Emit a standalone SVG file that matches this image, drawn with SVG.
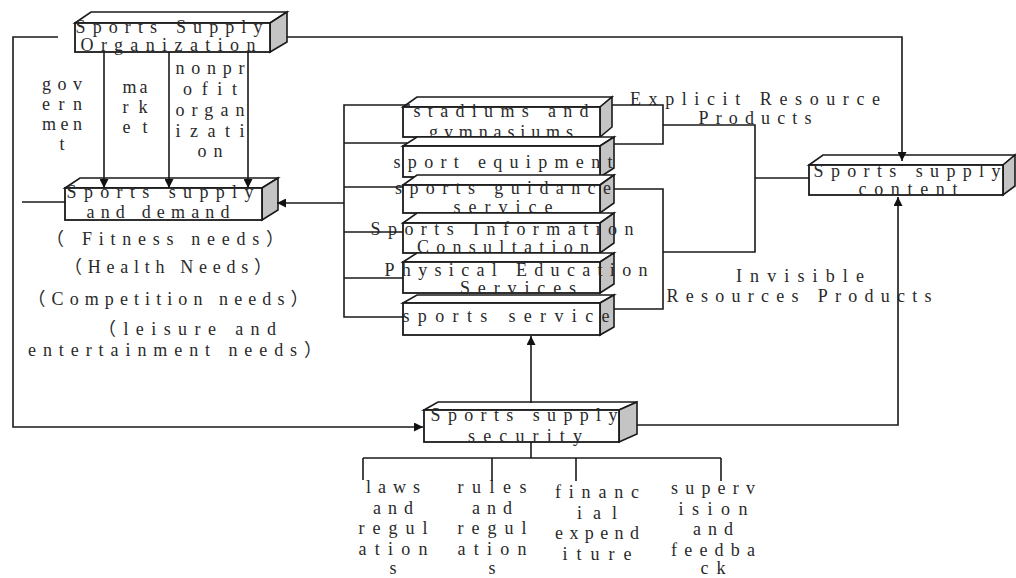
<svg xmlns="http://www.w3.org/2000/svg" width="1016" height="578" viewBox="0 0 1016 578">
<defs>
<style>
.t{font-family:"Liberation Serif","Noto Sans CJK SC",serif;font-size:18px;fill:#2a2a2a;text-anchor:middle}
.ln{fill:none;stroke:#1a1a1a;stroke-width:1.6}
.fr{fill:#ffffff;stroke:#1a1a1a;stroke-width:1.8}
.tp{fill:#ffffff;stroke:#1a1a1a;stroke-width:1.6}
.sd{fill:#c4c4c4;stroke:#1a1a1a;stroke-width:1.6}
</style>
<marker id="ar" viewBox="0 0 10 10" refX="10" refY="5" markerWidth="9" markerHeight="9" markerUnits="userSpaceOnUse" orient="auto">
<path d="M0,0 L10,5 L0,10 z" fill="#111"/>
</marker>
</defs>
<rect width="1016" height="578" fill="#ffffff"/>

<g id="n-org">
<polygon class="tp" points="75,23 91,12 287,12 270,23"/>
<polygon class="sd" points="270,23 287,12 287,42 270,52"/>
<rect class="fr" x="75" y="23" width="195" height="29"/>
<text class="t" x="169" y="33" textLength="187" lengthAdjust="spacing">Sports Supply</text>
<text class="t" x="168" y="51" textLength="175" lengthAdjust="spacing">Organization</text>
</g>

<g id="n-labels-org">
<text class="t" x="62" y="90" textLength="40" lengthAdjust="spacing">gov</text>
<text class="t" x="62" y="110" textLength="40" lengthAdjust="spacing">ern</text>
<text class="t" x="62" y="130" textLength="40" lengthAdjust="spacing">men</text>
<text class="t" x="62" y="150">t</text>
<text class="t" x="135" y="93" textLength="25" lengthAdjust="spacing">ma</text>
<text class="t" x="135" y="113" textLength="25" lengthAdjust="spacing">rk</text>
<text class="t" x="135" y="133" textLength="25" lengthAdjust="spacing">et</text>
<text class="t" x="210" y="74" textLength="69" lengthAdjust="spacing">nonpr</text>
<text class="t" x="210" y="95" textLength="54" lengthAdjust="spacing">ofit</text>
<text class="t" x="210" y="116" textLength="69" lengthAdjust="spacing">organ</text>
<text class="t" x="210" y="137" textLength="69" lengthAdjust="spacing">izati</text>
<text class="t" x="210" y="157" textLength="25" lengthAdjust="spacing">on</text>
</g>

<g id="n-demand">
<polygon class="tp" points="65,188 80,178 278,178 262,188"/>
<polygon class="sd" points="262,188 278,178 278,210 262,220"/>
<rect class="fr" x="65" y="188" width="197" height="32"/>
<text class="t" x="160" y="198" textLength="187" lengthAdjust="spacing">Sports supply</text>
<text class="t" x="158" y="218" textLength="143" lengthAdjust="spacing">and demand</text>
</g>

<g id="n-needs">
<text class="t" x="165" y="245" textLength="238" lengthAdjust="spacing">（ Fitness needs）</text>
<text class="t" x="168" y="273" textLength="208" lengthAdjust="spacing">（Health Needs）</text>
<text class="t" x="168" y="305" textLength="281" lengthAdjust="spacing">（Competition needs）</text>
<text class="t" x="187" y="335" textLength="178" lengthAdjust="spacing">（leisure and</text>
<text class="t" x="175" y="356" textLength="294" lengthAdjust="spacing">entertainment needs）</text>
</g>

<g id="n-stadiums">
<polygon class="tp" points="403,107 417,97 612,97 600,107"/>
<polygon class="sd" points="600,107 612,97 612,127 600,137"/>
<rect class="fr" x="403" y="107" width="197" height="30"/>
<text class="t" x="501" y="117" textLength="175" lengthAdjust="spacing">stadiums and</text>
<text class="t" x="501" y="138" textLength="144" lengthAdjust="spacing">gymnasiums</text>
</g>

<g id="n-equipment">
<polygon class="tp" points="403,146 417,137 614,137 600,146"/>
<polygon class="sd" points="600,146 614,137 614,168 600,177"/>
<rect class="fr" x="403" y="146" width="197" height="31"/>
<text class="t" x="503" y="168" textLength="219" lengthAdjust="spacing">sport equipment</text>
</g>

<g id="n-guidance">
<polygon class="tp" points="403,185 417,175 614,175 600,185"/>
<polygon class="sd" points="600,185 614,175 614,203 600,213"/>
<rect class="fr" x="403" y="185" width="197" height="28"/>
<text class="t" x="503" y="194" textLength="216" lengthAdjust="spacing">sports guidance</text>
<text class="t" x="503" y="213" textLength="99" lengthAdjust="spacing">service</text>
</g>

<g id="n-information">
<polygon class="tp" points="403,223 417,213 614,213 600,223"/>
<polygon class="sd" points="600,223 614,213 614,243 600,253"/>
<rect class="fr" x="403" y="223" width="197" height="30"/>
<text class="t" x="502" y="235" textLength="263" lengthAdjust="spacing">Sports Information</text>
<text class="t" x="503" y="253" textLength="172" lengthAdjust="spacing">Consultation</text>
</g>

<g id="n-pe">
<polygon class="tp" points="403,262 417,253 614,253 600,262"/>
<polygon class="sd" points="600,262 614,253 614,284 600,293"/>
<rect class="fr" x="403" y="262" width="197" height="31"/>
<text class="t" x="516" y="276" textLength="263" lengthAdjust="spacing">Physical Education</text>
<text class="t" x="518" y="294" textLength="116" lengthAdjust="spacing">Services</text>
</g>

<g id="n-service">
<polygon class="tp" points="403,303 417,295 614,295 600,303"/>
<polygon class="sd" points="600,303 614,295 614,327 600,335"/>
<rect class="fr" x="403" y="303" width="197" height="32"/>
<text class="t" x="506" y="322" textLength="207" lengthAdjust="spacing">sports service</text>
</g>

<g id="n-explicit">
<text class="t" x="755" y="105" textLength="250" lengthAdjust="spacing">Explicit Resource</text>
<text class="t" x="755" y="124" textLength="113" lengthAdjust="spacing">Products</text>
</g>

<g id="n-invisible">
<text class="t" x="800" y="282" textLength="128" lengthAdjust="spacing">Invisible</text>
<text class="t" x="799" y="302" textLength="265" lengthAdjust="spacing">Resources Products</text>
</g>

<g id="n-content">
<polygon class="tp" points="809,165 823,155 1015,155 1003,165"/>
<polygon class="sd" points="1003,165 1015,155 1015,186 1003,195"/>
<rect class="fr" x="809" y="165" width="194" height="30"/>
<text class="t" x="907" y="177" textLength="187" lengthAdjust="spacing">Sports supply</text>
<text class="t" x="908" y="195" textLength="99" lengthAdjust="spacing">content</text>
</g>

<g id="n-security">
<polygon class="tp" points="424,410 438,402 637,402 619,410"/>
<polygon class="sd" points="619,410 637,402 637,434 619,442"/>
<rect class="fr" x="424" y="410" width="195" height="32"/>
<text class="t" x="524" y="421" textLength="187" lengthAdjust="spacing">Sports supply</text>
<text class="t" x="525" y="442" textLength="114" lengthAdjust="spacing">security</text>
</g>

<g id="n-laws">
<text class="t" x="393" y="493" textLength="54" lengthAdjust="spacing">laws</text>
<text class="t" x="393" y="514" textLength="40" lengthAdjust="spacing">and</text>
<text class="t" x="393" y="534" textLength="69" lengthAdjust="spacing">regul</text>
<text class="t" x="393" y="555" textLength="69" lengthAdjust="spacing">ation</text>
<text class="t" x="393" y="574">s</text>
</g>
<g id="n-rules">
<text class="t" x="492" y="493" textLength="69" lengthAdjust="spacing">rules</text>
<text class="t" x="492" y="514" textLength="40" lengthAdjust="spacing">and</text>
<text class="t" x="492" y="534" textLength="69" lengthAdjust="spacing">regul</text>
<text class="t" x="492" y="555" textLength="69" lengthAdjust="spacing">ation</text>
<text class="t" x="492" y="574">s</text>
</g>
<g id="n-financial">
<text class="t" x="597" y="498" textLength="84" lengthAdjust="spacing">financ</text>
<text class="t" x="597" y="519" textLength="40" lengthAdjust="spacing">ial</text>
<text class="t" x="597" y="539" textLength="84" lengthAdjust="spacing">expend</text>
<text class="t" x="597" y="560" textLength="69" lengthAdjust="spacing">iture</text>
</g>
<g id="n-supervision">
<text class="t" x="713" y="494" textLength="84" lengthAdjust="spacing">superv</text>
<text class="t" x="713" y="515" textLength="69" lengthAdjust="spacing">ision</text>
<text class="t" x="713" y="535" textLength="40" lengthAdjust="spacing">and</text>
<text class="t" x="713" y="556" textLength="84" lengthAdjust="spacing">feedba</text>
<text class="t" x="713" y="574" textLength="25" lengthAdjust="spacing">ck</text>
</g>

<g id="connectors">
<polyline class="ln" points="58,37 13,37 13,427 423,427" marker-end="url(#ar)"/>
<line class="ln" x1="22" y1="202" x2="65" y2="202"/>
<polyline class="ln" points="287,37 902,37 902,161" marker-end="url(#ar)"/>
<line class="ln" x1="104" y1="52" x2="104" y2="188" marker-end="url(#ar)"/>
<line class="ln" x1="169" y1="52" x2="169" y2="188" marker-end="url(#ar)"/>
<line class="ln" x1="248" y1="52" x2="248" y2="188" marker-end="url(#ar)"/>
<polyline class="ln" points="410,105 344,105 344,317 403,317"/>
<line class="ln" x1="344" y1="143" x2="407" y2="143"/>
<line class="ln" x1="344" y1="187" x2="403" y2="187"/>
<line class="ln" x1="344" y1="232" x2="403" y2="232"/>
<line class="ln" x1="344" y1="278" x2="403" y2="278"/>
<line class="ln" x1="344" y1="203" x2="277" y2="203" marker-end="url(#ar)"/>
<polyline class="ln" points="612,105 663,105 663,144 614,144"/>
<polyline class="ln" points="614,189 663,189 663,309 614,309"/>
<polyline class="ln" points="663,125 755,125 755,252 663,252"/>
<line class="ln" x1="755" y1="178" x2="809" y2="178"/>
<line class="ln" x1="531" y1="403" x2="531" y2="336" marker-end="url(#ar)"/>
<polyline class="ln" points="637,425 898,425 898,197" marker-end="url(#ar)"/>
<line class="ln" x1="531" y1="442" x2="531" y2="458"/>
<line class="ln" x1="363" y1="458" x2="721" y2="458"/>
<line class="ln" x1="363" y1="458" x2="363" y2="480"/>
<line class="ln" x1="492" y1="458" x2="492" y2="481"/>
<line class="ln" x1="576" y1="458" x2="576" y2="481"/>
<line class="ln" x1="721" y1="458" x2="721" y2="481"/>
</g>
</svg>
